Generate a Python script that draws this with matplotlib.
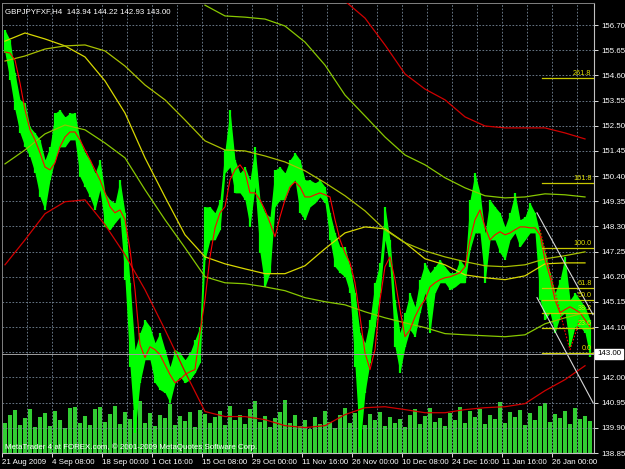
import numpy as np
import matplotlib
matplotlib.use("Agg")
import matplotlib.pyplot as plt

plt.rcParams['font.family'] = ['Liberation Sans', 'DejaVu Sans']

# GBPJPY H4, sampled every ~5 px of the original chart
high = [156.49, 156.08, 154.70, 153.58, 153.45, 152.45, 152.20, 151.91, 151.08, 151.62,
        153.03, 153.16, 152.87, 153.03, 153.03, 151.91, 151.37, 151.08, 150.53, 151.08,
        149.70, 149.41, 149.28, 150.24, 148.87, 145.95, 143.16, 143.87, 144.41, 144.12,
        143.45, 143.87, 143.16, 142.45, 143.16, 143.03, 142.74, 143.03, 143.58, 144.12,
        149.12, 149.12, 148.87, 149.41, 151.49, 153.16, 151.08, 150.53, 150.78, 150.24,
        151.62, 149.41, 148.87, 148.70, 150.66, 150.78, 150.53, 151.08, 151.37, 151.08,
        150.24, 150.24, 150.12, 150.24, 149.95, 148.87, 148.03, 147.45, 147.45, 146.62,
        145.53, 143.87, 143.45, 144.41, 145.95, 146.78, 149.12, 147.74, 145.24, 143.87,
        144.70, 145.53, 144.95, 146.08, 146.78, 146.37, 146.62, 146.91, 146.62, 146.37,
        146.37, 146.91, 146.62, 149.41, 150.53, 149.70, 148.03, 149.41, 149.12, 148.87,
        148.28, 148.87, 149.70, 148.58, 148.70, 149.28, 148.87, 148.03, 147.20, 146.37,
        145.53, 146.08, 147.03, 145.24, 145.53, 145.24, 144.95, 144.41]
low = [155.53, 154.41, 153.16, 152.20, 151.62, 151.20, 150.53, 149.53, 148.99, 150.24,
       151.08, 151.62, 151.62, 151.91, 151.91, 150.37, 149.95, 149.53, 148.99, 149.83,
       148.28, 148.16, 148.45, 148.70, 146.08, 142.45, 139.70, 141.78, 142.74, 142.74,
       141.78, 141.49, 141.37, 140.95, 141.78, 142.03, 141.78, 141.91, 142.20, 142.62,
       146.91, 147.74, 147.74, 148.16, 150.53, 150.78, 149.70, 149.70, 149.41, 148.28,
       149.95, 147.20, 145.78, 146.37, 149.12, 149.41, 149.41, 149.95, 150.24, 148.87,
       148.58, 149.12, 149.28, 149.53, 149.28, 147.74, 146.62, 146.37, 146.20, 145.53,
       142.45, 139.12, 141.37, 142.62, 144.12, 145.53, 147.74, 146.62, 143.28, 142.20,
       143.28, 143.99, 143.70, 144.70, 145.53, 143.87, 145.53, 145.95, 145.95, 145.66,
       145.78, 145.95, 145.95, 147.33, 148.03, 148.03, 145.95, 147.74, 147.74, 147.20,
       146.91, 147.74, 148.03, 147.45, 147.74, 148.03, 148.03, 145.24, 144.41, 144.70,
       143.87, 144.53, 144.70, 143.28, 144.12, 144.12, 143.87, 142.87]
volume = [2400, 3040, 3440, 2240, 2800, 3520, 2080, 2880, 3200, 2160, 3360, 2640, 2000, 3600,
          3680, 2400, 2960, 2240, 3520, 3680, 2480, 3120, 3760, 2320, 3280, 2720, 3440, 4160,
          2400, 3200, 2160, 3040, 2800, 3920, 2240, 2960, 2560, 3280, 2080, 3440, 3120, 2400,
          2880, 3360, 2240, 3760, 2640, 3040, 2320, 3520, 4160, 2480, 2960, 2080, 2800, 3280,
          4240, 2400, 3040, 2160, 2640, 1920, 2880, 2320, 3360, 2480, 2000, 3040, 3600, 2400,
          3200, 3760, 2240, 3120, 2640, 3280, 2160, 2880, 2400, 2720, 2080, 3040, 3520, 2320,
          2960, 3600, 2480, 2800, 2160, 3200, 2640, 3680, 2400, 3360, 2880, 3520, 2320, 3040,
          2720, 4080, 2400, 3280, 2880, 3440, 2240, 3200, 2640, 3760, 4000, 2480, 3120, 2800,
          3360, 2320, 3600, 2720, 2960, 2560]
ma_fast = [155.58, 155.53, 155.24, 154.28, 153.16, 152.33, 151.91, 151.37, 150.78, 150.66,
           150.95, 151.62, 152.03, 152.24, 152.24, 151.91, 151.49, 151.08, 150.66, 150.24,
           149.70, 149.12, 148.87, 148.99, 148.58, 147.33, 145.66, 143.37, 142.83, 143.28,
           143.16, 142.95, 142.53, 142.12, 141.78, 141.91, 142.12, 142.24, 142.33, 143.87,
           145.24, 147.03, 148.24, 148.87, 149.12, 150.24, 150.66, 150.87, 150.58, 149.70,
           149.70, 149.41, 148.99, 148.45, 147.87, 148.70, 149.41, 149.95, 150.16, 149.95,
           149.53, 149.53, 149.62, 149.70, 149.62, 149.53, 148.58, 147.74, 147.20, 146.78,
           145.95, 144.53, 143.03, 142.33, 143.16, 145.24, 146.62, 147.03, 146.08, 144.83,
           143.70, 143.99, 144.53, 144.95, 145.24, 145.78, 145.95, 146.08, 146.16, 146.20,
           146.28, 146.37, 146.62, 147.74, 148.58, 148.99, 148.28, 147.74, 147.95, 148.08,
           147.95, 148.03, 148.16, 148.28, 148.28, 148.24, 148.24, 147.95, 146.91, 146.20,
           145.24, 144.70, 144.83, 144.95, 144.83, 144.70, 144.41, 144.12]
# slow lines, one value every 4 samples
ma_yellow = [156.03, 156.37, 156.12, 155.83, 155.37, 154.37, 153.03, 151.16, 149.53, 147.95,
             147.03, 146.74, 146.53, 146.33, 146.33, 146.66, 147.37, 148.03, 148.28, 148.20,
             147.62, 146.95, 146.70, 146.28, 146.16, 146.08, 146.24, 146.74, 146.78, 146.78]
ma_olive = [155.20, 155.41, 155.70, 155.83, 155.87, 155.62, 154.99, 154.20, 153.58, 152.74,
            151.87, 151.49, 151.45, 151.24, 150.99, 150.62, 150.12, 149.58, 148.95, 148.16,
            147.62, 147.28, 147.03, 146.83, 146.66, 146.62, 146.70, 146.95, 147.08, 147.24]
ma_long = [np.nan] * 10 + [157.53, 157.08, 157.03, 156.95, 156.66, 155.99, 155.03, 153.78,
                           152.91, 152.03, 151.28, 150.87, 150.33, 149.91, 149.58, 149.49,
                           149.53, 149.66, 149.62, 149.53]
ma_low = [150.91, 151.49, 152.16, 152.53, 152.33, 151.78, 151.16, 149.83, 148.58, 147.41,
          146.20, 145.95, 145.91, 145.78, 145.62, 145.33, 145.16, 145.03, 144.74, 144.49,
          144.28, 144.08, 143.83, 143.78, 143.74, 143.70, 143.78, 144.24, 144.49, 144.70]
band_up = [np.nan] * 17 + [157.70, 156.99, 155.87, 154.66, 154.03, 153.58, 152.87, 152.49,
                           152.41, 152.41, 152.41, 152.20, 151.95]
band_dn = [146.70, 147.74, 148.83, 149.33, 149.41, 148.37, 147.12, 145.66, 143.99, 142.24,
           140.58, 140.37, 140.37, 140.24, 139.99, 139.91, 139.99, 140.45, 140.74, 140.78,
           140.66, 140.53, 140.53, 140.66, 140.74, 140.78, 140.91, 141.45, 141.91, 142.49]
ma_dotted = [148.16, 147.33, 146.41, 145.58, 144.74, 143.91, 143.16, 143.78, 144.49]
dotted_start = 107

fib_low, fib_high = 143.03, 147.41
fib_levels = [0.0, 23.6, 38.2, 50.0, 61.8, 100.0, 161.8, 261.8]
fib_start = 107.4
chan_x = [106.4, 117.6]
chan_top = [148.87, 144.62]
chan_bot = [145.33, 140.95]
bid = 143.00

xlabels = ['21 Aug 2009', '4 Sep 08:00', '18 Sep 00:00', '1 Oct 16:00', '15 Oct 08:00',
           '29 Oct 00:00', '11 Nov 16:00', '26 Nov 00:00', '10 Dec 08:00', '24 Dec 16:00',
           '11 Jan 16:00', '26 Jan 00:00']

# ---------------------------------------------------------------------------
x = np.arange(len(high))
xs = np.arange(0, len(high), 4)
xlim = (-0.6, 117.8)
ylim = (138.87, 157.62)
pos = [2 / 625, 1 - 453 / 469, 592 / 625, 450 / 469]
fg = 'white'
gridc = '#778899'
fs = 5.7

fig = plt.figure(figsize=(6.25, 4.69), dpi=100, facecolor='black')

vax = fig.add_axes(pos, facecolor='black')
vax.bar(x, volume, width=0.95, color='#32cd32', linewidth=0)
vax.set_xlim(xlim)
vax.set_ylim(0, 36000)
vax.axis('off')

ax = fig.add_axes(pos, facecolor='none')
ax.set_xlim(xlim)
ax.set_ylim(ylim)

# grid
for gx in np.arange(4.4, xlim[1], 5):
  ax.axvline(gx, color=gridc, lw=0.6, ls=(0, (2, 2)), zorder=0)
yt = np.round(156.70 - 1.05 * np.arange(18), 2)
for gy in yt:
  ax.axhline(gy, color=gridc, lw=0.6, ls=(0, (2, 2)), zorder=0)

# price bars
ax.fill_between(x, low, high, color='#00ff00', lw=0, zorder=2)
ax.vlines(x, low, high, color='#00ff00', lw=1.6, zorder=2)

# indicators
ax.plot(xs, band_up, color='#d00000', lw=0.9, zorder=3)
ax.plot(xs, band_dn, color='#d00000', lw=0.9, zorder=3)
ax.plot(xs, ma_yellow, color='#d8d800', lw=0.9, zorder=3)
ax.plot(xs, ma_olive, color='#a8c000', lw=0.9, zorder=3)
ax.plot(xs, ma_long, color='#88c800', lw=0.9, zorder=3)
ax.plot(xs, ma_low, color='#88c800', lw=0.9, zorder=3)
ax.plot(x, ma_fast, color='#ff0000', lw=0.8, zorder=4)
ax.plot(np.arange(dotted_start, dotted_start + len(ma_dotted)), ma_dotted,
        color='#ff0000', lw=0.8, ls=(0, (1.5, 1.5)), zorder=4)

# fibo levels
for lv in fib_levels:
  p = fib_low + (fib_high - fib_low) * lv / 100
  ax.plot([fib_start, xlim[1]], [p, p], color='#c8c800', lw=0.9, zorder=5)
  ax.text(117.3, p + 0.04, '%.1f' % lv, color='#e0e000', fontsize=5.2,
          ha='right', va='bottom', zorder=6)

# channel
ax.plot(chan_x, chan_top, color='#d8d8d8', lw=0.8, zorder=5)
ax.plot(chan_x, chan_bot, color='#d8d8d8', lw=0.8, zorder=5)

# bid line
ax.axhline(bid, color='#a0a0a0', lw=0.7, zorder=5)

# axes
for s in ['left', 'top']:
  ax.spines[s].set_color('#808080')
  ax.spines[s].set_linewidth(0.7)
for s in ['right', 'bottom']:
  ax.spines[s].set_color('#c0c0c0')
  ax.spines[s].set_linewidth(0.8)
ax.yaxis.tick_right()
ax.set_yticks(yt)
ax.set_yticklabels(['' if abs(v - bid) < 0.1 else '%.2f' % v for v in yt])
ax.tick_params(axis='y', colors=fg, labelsize=fs, length=3, width=0.6, pad=2,
               labelcolor=fg)
ax.set_xticks(-0.6 + 10 * np.arange(len(xlabels)))
ax.set_xticklabels(xlabels, ha='left')
ax.tick_params(axis='x', colors=fg, labelsize=fs, length=3, width=0.6, pad=1.5,
               labelcolor=fg)
ax.text(1.005, (bid - ylim[0]) / (ylim[1] - ylim[0]), '%.2f' % bid, transform=ax.transAxes,
        fontsize=fs, color='black', va='center', ha='left',
        bbox=dict(boxstyle='square,pad=0.2', fc='white', ec='white'))

ax.text(0.005, 0.982, 'GBPJPYFXF,H4  143.94 144.22 142.93 143.00', transform=ax.transAxes,
        color=fg, fontsize=fs, va='center', ha='left')
ax.text(0.005, 0.013, 'MetaTrader 4 at FOREX.com, \u00a9 2001-2009 MetaQuotes Software Corp.',
        transform=ax.transAxes, color=fg, fontsize=fs, va='center', ha='left', zorder=7)

fig.savefig('out.png', dpi=100, facecolor='black')
